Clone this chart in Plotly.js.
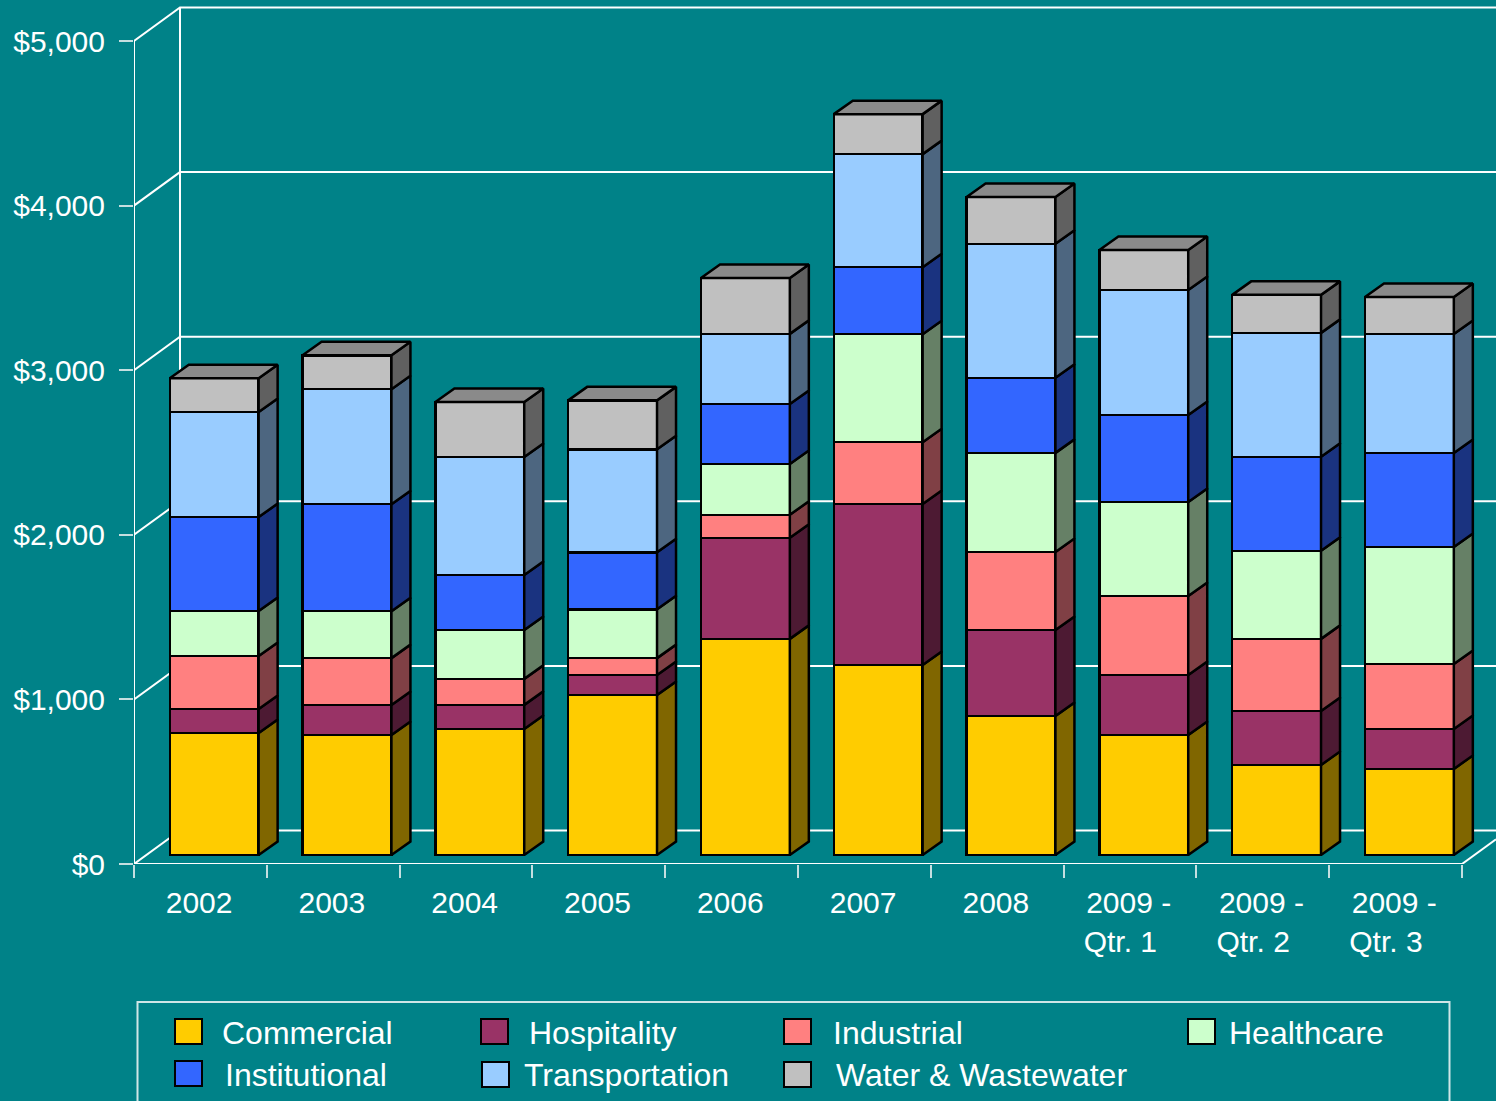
<!DOCTYPE html>
<html>
<head>
<meta charset="utf-8">
<script src="https://cdn.plot.ly/plotly-3.0.1.min.js"></script>
<style>html,body{margin:0;padding:0;background:#008288;overflow:hidden}#c{width:1496px;height:1101px}</style>
</head>
<body>
<div id="c"></div>
<script>
const categories = ['2002','2003','2004','2005','2006','2007','2008','2009 -<br>Qtr. 1\u00A0\u00A0','2009 -<br>Qtr. 2\u00A0\u00A0','2009 -<br>Qtr. 3\u00A0\u00A0'];
const commercial     = [741,729,766,972,1313,1154,844,729,547,523];
const hospitality    = [146,182,146,121,614,978,523,364,328,243];
const industrial     = [322,285,158,103,140,376,474,480,438,394];
const healthcare     = [273,285,297,297,309,656,602,571,535,711];
const institutional  = [571,650,334,346,364,407,456,529,571,571];
const transportation = [638,699,717,626,426,687,814,759,753,723];
const water          = [206,206,334,297,340,243,285,243,231,225];
const yTicks = [0,1000,2000,3000,4000,5000];
const yTickText = ['$0','$1,000','$2,000','$3,000','$4,000','$5,000'];
const seriesNames = ['Commercial','Hospitality','Industrial','Healthcare','Institutional','Transportation','Water & Wastewater'];
const seriesValues = [commercial,hospitality,industrial,healthcare,institutional,transportation,water];
const frontColors = ['#FFCC00','#993366','#FF8080','#CCFFCC','#3366FF','#99CCFF','#C0C0C0'];
const sideColors  = ['#806600','#4D1A33','#804045','#668066','#1A3380','#4D6680','#606060'];
const topColor = '#8A8A8A';

const W=1496,H=1101,L=134,AX=864,pxX=132.8,pxY=0.1646;
const vx=p=>p/pxX, vy=p=>p/pxY;
const xRange=[0,(W-L)/pxX], yRange=[0,AX/pxY];
const barDrop=vy(9);
const wallDx=vx(46), wallDy=vy(33.5);
const barCenter=0.604, barWidth=0.669, depthX=vx(19), depthY=vy(13.5);
const white='#FFFFFF';
const idx=categories.map((_,i)=>i);

const traces=[];
// wall and floor lines
const wx=[],wy=[];
yTicks.forEach(v=>{wx.push(0,wallDx,xRange[1],null);wy.push(v,v+wallDy,v+wallDy,null);});
wx.push(0,0,null,wallDx,wallDx,null,0,10,null,10,xRange[1]);
wy.push(0,5000,null,wallDy,5000+wallDy,null,0,0,null,0,(xRange[1]-10)*wallDy/wallDx);
traces.push({type:'scatter',mode:'lines',x:wx,y:wy,xaxis:'x',yaxis:'y',line:{color:white,width:2},hoverinfo:'skip',showlegend:false,cliponaxis:false});
// front faces
seriesNames.forEach((n,s)=>{
  traces.push({type:'bar',name:n,x:idx.map(i=>i+barCenter),y:seriesValues[s],width:barWidth,xaxis:'x2',yaxis:'y2',
    marker:{color:frontColors[s],line:{color:'#000',width:2.5}},showlegend:false});
});
// side faces and top face
const running=idx.map(()=>0);
seriesNames.forEach((n,s)=>{
  const px=[],py=[];
  idx.forEach(i=>{
    const x0=i+barCenter+barWidth/2,b=running[i],t=b+seriesValues[s][i];
    px.push(x0,x0+depthX,x0+depthX,x0,x0,null);
    py.push(b,b+depthY,t+depthY,t,b,null);
    running[i]=t;
  });
  traces.push({type:'scatter',mode:'lines',x:px,y:py,xaxis:'x2',yaxis:'y2',fill:'toself',fillcolor:sideColors[s],
    line:{color:'#000',width:2.5},hoverinfo:'skip',showlegend:false,cliponaxis:false});
});
const tx=[],ty=[];
idx.forEach(i=>{
  const a=i+barCenter-barWidth/2,b=i+barCenter+barWidth/2,t=running[i];
  tx.push(a,a+depthX,b+depthX,b,a,null);
  ty.push(t,t+depthY,t+depthY,t,t,null);
});
traces.push({type:'scatter',mode:'lines',x:tx,y:ty,xaxis:'x2',yaxis:'y2',fill:'toself',fillcolor:topColor,
  line:{color:'#000',width:2.5},hoverinfo:'skip',showlegend:false,cliponaxis:false});

// legend
const legendLayout=[[174,1019,223,1033],[480,1019,530,1033],[783,1019,834,1033],[1187,1019,1230,1033],
                    [174,1061,226,1075],[481,1062,525,1075],[783,1062,837,1075]];
const PW=W-L;
const px2=p=>(p-L)/PW, py2=p=>(AX-p)/AX;
const shapes=[{type:'rect',xref:'paper',yref:'paper',x0:px2(137.5),x1:px2(1449.5),y0:py2(1002),y1:py2(1110),line:{color:'#CFE6E7',width:2},fillcolor:'rgba(0,0,0,0)'}];
const annotations=[];
seriesNames.forEach((n,s)=>{
  const l=legendLayout[s];
  shapes.push({type:'rect',xref:'paper',yref:'paper',x0:px2(l[0]+1),x1:px2(l[0]+28),y0:py2(l[1]),y1:py2(l[1]+25),fillcolor:frontColors[s],line:{color:'#000',width:2}});
  annotations.push({xref:'paper',yref:'paper',x:px2(l[2]),y:py2(l[3]),xanchor:'left',yanchor:'middle',text:n,showarrow:false,xshift:-3,
    font:{family:'Liberation Sans',size:32,color:white}});
});

const font={family:'Liberation Sans',size:30,color:white};
const layout={
  width:W,height:H,margin:{l:L,r:0,t:0,b:H-AX,pad:0},
  paper_bgcolor:'#008288',plot_bgcolor:'#008288',barmode:'stack',bargap:0,showlegend:false,font:font,
  xaxis:{range:xRange,tickmode:'array',tickvals:[0,1,2,3,4,5,6,7,8,9,10],ticktext:Array(11).fill(''),ticks:'outside',ticklen:13,tickwidth:2,tickcolor:'#C5DFE0',showgrid:false,zeroline:false,showline:false,fixedrange:true},
  xaxis2:{overlaying:'x',anchor:'y',side:'bottom',range:xRange,tickmode:'array',tickvals:idx.map(i=>i+0.49),ticktext:categories,ticks:'',ticklen:0,tickfont:font,tickangle:0,ticklabelstandoff:18,showgrid:false,zeroline:false,showline:false,fixedrange:true},
  yaxis:{range:yRange,tickmode:'array',tickvals:yTicks,ticktext:yTickText,ticks:'outside',ticklen:14,tickwidth:2,tickcolor:'#C5DFE0',tickfont:font,ticklabelstandoff:8,showgrid:false,zeroline:false,showline:false,fixedrange:true},
  yaxis2:{overlaying:'y',anchor:'x',range:[yRange[0]-barDrop,yRange[1]-barDrop],visible:false,fixedrange:true},
  shapes:shapes,annotations:annotations
};
Plotly.newPlot('c',traces,layout,{displayModeBar:false,staticPlot:true});
</script>
</body>
</html>
